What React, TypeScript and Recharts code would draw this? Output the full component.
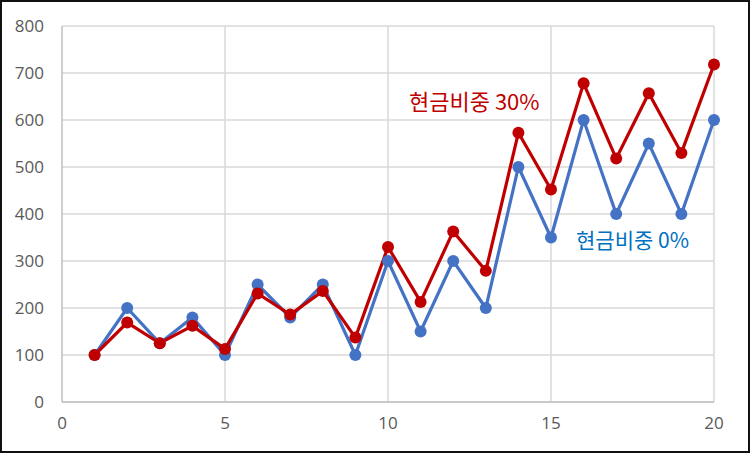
import React from "react";
import {
  LineChart, Line, XAxis, YAxis, CartesianGrid,
} from "recharts";

// x positions 1..20
const periods = [1, 2, 3, 4, 5, 6, 7, 8, 9, 10, 11, 12, 13, 14, 15, 16, 17, 18, 19, 20];
const cash0 = [100, 200, 125, 180, 100, 250, 180, 250, 100, 300, 150, 300, 200, 500, 350, 600, 400, 550, 400, 600];
const cash30 = [100, 169, 125, 162, 113, 231, 186, 236, 137, 330, 213, 363, 279, 573, 452, 678, 518, 657, 530, 718];
const xTicks = [0, 5, 10, 15, 20];
const yTicks = [0, 100, 200, 300, 400, 500, 600, 700, 800];

const BLUE = "#4472C4";
const RED = "#C00000";
const GRID = "#d9d9d9";
const TICK = { fontSize: 17, fill: "#595959", fontFamily: "'Open Sans', 'Noto Sans', sans-serif" };

const rows = periods.map((p, i) => ({ x: p, a: cash0[i], b: cash30[i] }));

export default function App() {
  return (
    <div style={{ position: "fixed", left: 0, top: 0, width: 750, height: 453, background: "#fff" }}>
      <LineChart
        width={750} height={453} data={rows}
        margin={{ top: 26, right: 36, bottom: 0, left: 0 }}
      >
        <CartesianGrid stroke={GRID} strokeWidth={1.5} verticalValues={[5, 10, 15, 20]} horizontalValues={yTicks} />
        <XAxis
          dataKey="x" type="number" domain={[0, 20]} ticks={xTicks}
          height={51} tickSize={0} tickMargin={15}
          axisLine={{ stroke: "#bfbfbf", strokeWidth: 1.5 }} tickLine={false} tick={TICK}
        />
        <YAxis
          type="number" domain={[0, 800]} ticks={yTicks}
          width={62} tickSize={0} tickMargin={18}
          axisLine={{ stroke: "#bfbfbf", strokeWidth: 1.5 }} tickLine={false} tick={TICK}
        />
        <Line
          dataKey="a" stroke={BLUE} strokeWidth={3.2}
          dot={{ r: 6, fill: BLUE, stroke: BLUE, strokeWidth: 0 }}
          isAnimationActive={false}
        />
        <Line
          dataKey="b" stroke={RED} strokeWidth={3.2}
          dot={{ r: 6, fill: RED, stroke: RED, strokeWidth: 0 }}
          isAnimationActive={false}
        />
      </LineChart>
      {/* series labels */}
      <div style={{ position: "absolute", left: 409, top: 85, color: RED, fontSize: 22, fontFamily: "'Noto Sans CJK KR', sans-serif", lineHeight: "30px", whiteSpace: "nowrap" }}>
        현금비중 30%
      </div>
      <div style={{ position: "absolute", left: 576, top: 224, color: "#0070C0", fontSize: 21, fontFamily: "'Noto Sans CJK KR', sans-serif", lineHeight: "30px", whiteSpace: "nowrap" }}>
        현금비중 0%
      </div>
      <div style={{ position: "absolute", inset: 0, border: "2px solid #111", boxSizing: "border-box", pointerEvents: "none" }} />
    </div>
  );
}
